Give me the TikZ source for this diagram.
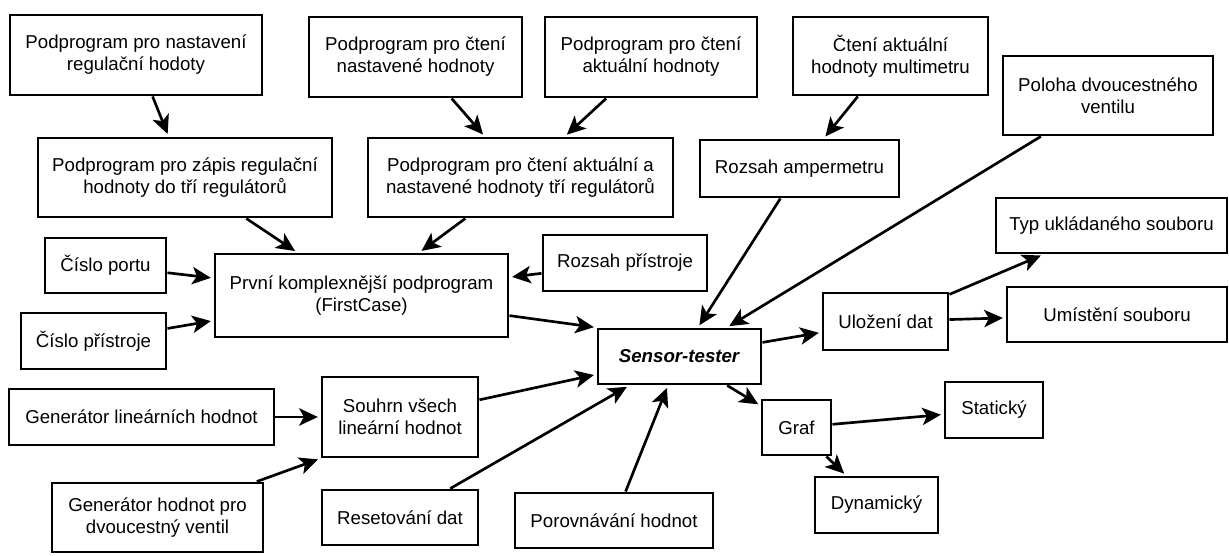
\documentclass[tikz,border=0pt]{standalone}
\usepackage{fontspec}
\setmainfont{Liberation Sans}
\usepackage{tikz}
\usetikzlibrary{arrows.meta,
                positioning}
\tikzset{
  blok/.style={%
    draw=black,
    line width=2.2pt,
    rectangle,
    align=center,
    inner sep=2pt,
    font=\fontsize{14}{16.5}\selectfont,
  },
  pil/.style={%
    -{Stealth[length=14pt,width=13pt,inset=3.5pt]},
    line width=2pt,
    shorten >=2pt,
  }
}
\newcommand\Blok[6]{% name, left, top, right, bottom, text (in px of the sketch)
  \node (#1) [blok,minimum width={(#4-#2)*0.75pt},minimum height={(#5-#3)*0.75pt}]
    at ({(#2+#4)/2},{(#3+#5)/2}) {#6};
}
\begin{document}
\begin{tikzpicture}[x=0.75pt,y=-0.75pt]
    \useasboundingbox (0,0) rectangle (1229,556);
    % horni rada
    \Blok{nastav}{10}{15}{262}{95}{Podprogram pro nastavení\\regulační hodoty}
    \Blok{ctenin}{309}{17}{522}{97}{Podprogram pro čtení\\nastavené hodnoty}
    \Blok{ctenia}{545}{17}{757}{97}{Podprogram pro čtení\\aktuální hodnoty}
    \Blok{multi}{793}{17}{988}{95}{Čtení aktuální\\hodnoty multimetru}
    \Blok{ventil}{1003}{56}{1213}{135}{Poloha dvoucestného\\ventilu}
    \Blok{zapis}{38}{138}{332}{217}{Podprogram pro zápis regulační\\hodnoty do tří regulátorů}
    \Blok{cteni}{368}{138}{673}{217}{Podprogram pro čtení aktuální a\\nastavené hodnoty tří regulátorů}
    \Blok{amper}{700}{140}{899}{197}{Rozsah ampermetru}
    % stred
    \Blok{port}{45}{238}{166}{293}{Číslo portu}
    \Blok{pristroj}{21}{313}{166}{369}{Číslo přístroje}
    \Blok{first}{215}{254}{508}{337}{První komplexnější podprogram\\(FirstCase)}
    \Blok{rozsah}{543}{235}{707}{291}{Rozsah přístroje}
    \Blok{sensor}{598}{329}{761}{384}{\textbf{\textit{Sensor-tester}}}
    \Blok{ulozeni}{823}{293}{948}{350}{Uložení dat}
    \Blok{typ}{996}{198}{1227}{253}{Typ ukládaného souboru}
    \Blok{umisteni}{1007}{287}{1227}{342}{Umístění souboru}
    % dolni rada
    \Blok{genlin}{9}{389}{274}{445}{Generátor lineárních hodnot}
    \Blok{souhrn}{322}{377}{478}{457}{Souhrn všech\\lineární hodnot}
    \Blok{genvent}{52}{483}{263}{552}{Generátor hodnot pro\\dvoucestný ventil}
    \Blok{reset}{322}{490}{478}{545}{Resetování dat}
    \Blok{porov}{515}{493}{713}{548}{Porovnávání hodnot}
    \Blok{graf}{762}{400}{831}{455}{Graf}
    \Blok{staticky}{945}{382}{1043}{438}{Statický}
    \Blok{dynam}{815}{477}{938}{533}{Dynamický}

    \draw [pil] (nastav) -- (zapis);
    \draw [pil] (ctenin) -- (cteni);
    \draw [pil] (ctenia) -- (cteni);
    \draw [pil] (multi) -- (amper);
    \draw [pil] (zapis) -- (first);
    \draw [pil] (cteni) -- (first);
    \draw [pil] (port) -- (first);
    \draw [pil] (pristroj) -- (first);
    \draw [pil] (rozsah) -- (first);
    \draw [pil] (first) -- (sensor.north west);
    \draw [pil] (amper) -- (sensor);
    \draw [pil] (ventil) -- (sensor);
    \draw [pil] (genlin) -- (souhrn);
    \draw [pil] (genvent) -- (souhrn.south west);
    \draw [pil] (souhrn) -- (sensor);
    \draw [pil] (reset) -- (sensor);
    \draw [pil] (porov) -- (sensor);
    \draw [pil] (sensor) -- (ulozeni);
    \draw [pil] (sensor) -- (graf);
    \draw [pil] (ulozeni) -- (typ);
    \draw [pil] (ulozeni) -- (umisteni);
    \draw [pil] (graf) -- (staticky);
    \draw [pil] (graf) -- (dynam);
\end{tikzpicture}
\end{document}
